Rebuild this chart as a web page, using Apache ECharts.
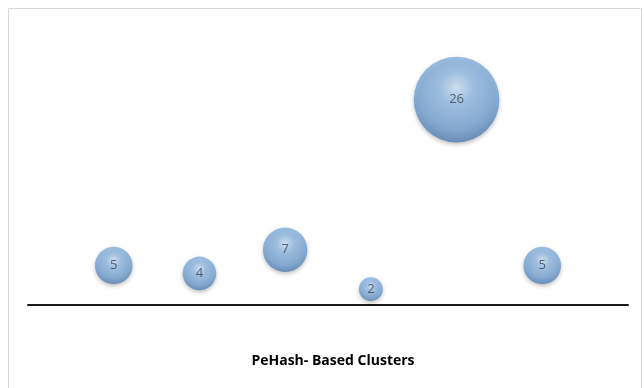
<!DOCTYPE html>
<html>
<head>
<meta charset="utf-8">
<script src="https://cdn.jsdelivr.net/npm/echarts@6/dist/echarts.min.js"></script>
<style>
html,body{margin:0;padding:0;background:#fff;}
#main{width:644px;height:388px;}
</style>
</head>
<body>
<div id="main"></div>
<script>
var positions = [1, 2, 3, 4, 5, 6];
var clusterSizes = [5, 4, 7, 2, 26, 5];
var titleText = 'PeHash- Based Clusters';

var chart = echarts.init(document.getElementById('main'), null, {renderer: 'canvas'});
var data = positions.map(function (p, i) { return [p, clusterSizes[i], clusterSizes[i]]; });

var bubbleColor = new echarts.graphic.RadialGradient(0.5, 0.36, 0.64, [
  {offset: 0, color: '#cde5f8'},
  {offset: 0.3, color: '#94bde6'},
  {offset: 0.75, color: '#75a2d3'},
  {offset: 1, color: '#527fb3'}
]);

chart.setOption({
  animation: false,
  backgroundColor: '#fff',
  title: {
    text: titleText,
    left: 328, top: 349, textAlign: 'center',
    textStyle: {fontFamily: 'Open Sans', fontWeight: 'bold', fontSize: 14, color: '#000'}
  },
  grid: {left: 28, right: 16, top: 68, bottom: 83},
  xAxis: {
    type: 'value', min: 0, max: 7,
    axisLine: {show: true, onZero: true, lineStyle: {color: '#1a1a1a', width: 2}},
    axisTick: {show: false}, axisLabel: {show: false}, splitLine: {show: false}
  },
  yAxis: {
    type: 'value', min: 0, max: 30,
    axisLine: {show: false}, axisTick: {show: false}, axisLabel: {show: false}, splitLine: {show: false}
  },
  graphic: [{
    type: 'rect', silent: true, z: -1,
    shape: {x: 8.5, y: 8.5, width: 633, height: 390},
    style: {fill: null, stroke: '#d9d9d9', lineWidth: 1}
  }],
  series: [{
    type: 'scatter',
    data: data,
    symbolSize: function (d) { return 16.8 * Math.sqrt(d[2]); },
    itemStyle: {
      color: bubbleColor,
      shadowBlur: 4, shadowColor: 'rgba(0,0,0,0.3)', shadowOffsetY: 2
    },
    label: {
      show: true, position: 'inside',
      formatter: function (p) { return p.value[2]; },
      fontFamily: 'Open Sans', fontSize: 13, color: '#3a4252'
    }
  }]
});
</script>
</body>
</html>
